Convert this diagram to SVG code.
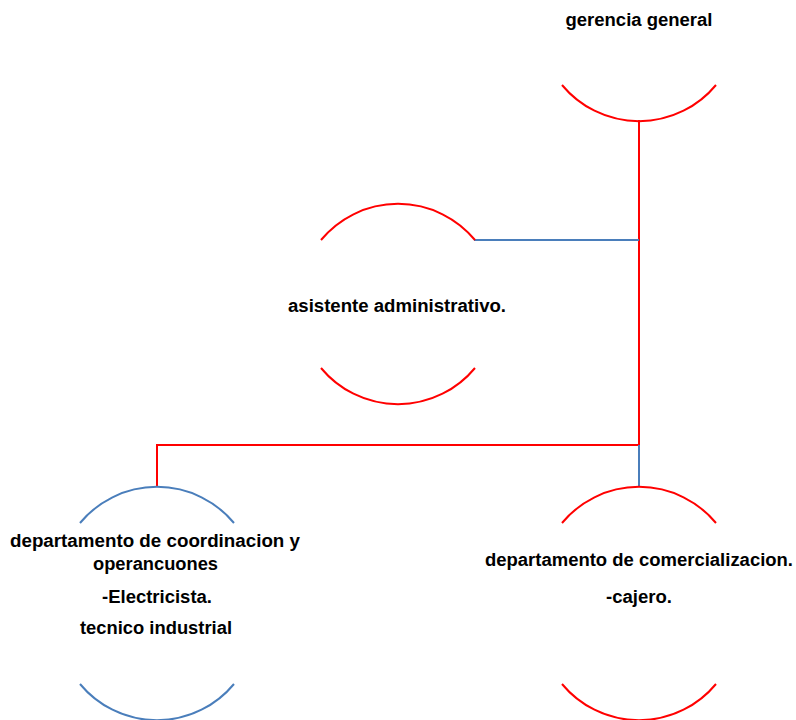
<svg xmlns="http://www.w3.org/2000/svg" width="796" height="720" viewBox="0 0 796 720">
<style>
  .red { fill: none; stroke: #FF0000; stroke-width: 2; }
  .blue { fill: none; stroke: #4A7EBB; stroke-width: 2; }
  .lbl { font-family: "Liberation Sans", Arial, sans-serif; font-weight: bold; font-size: 18px; fill: #000; text-anchor: middle; }
</style>
<rect width="796" height="720" fill="#FFFFFF"/>
<g id="connectors">
  <line class="red" x1="639" y1="120" x2="639" y2="445"/>
  <line class="blue" x1="474" y1="240" x2="639" y2="240"/>
  <polyline class="red" points="639,445 157,445 157,487"/>
  <line class="blue" x1="639" y1="445" x2="639" y2="487"/>
</g>
<g id="gerencia-general">
  <path class="red" d="M 562 85 A 100 100 0 0 0 716 85"/>
  <text class="lbl" x="639" y="26" textLength="147" lengthAdjust="spacingAndGlyphs">gerencia general</text>
</g>
<g id="asistente-administrativo">
  <path class="red" d="M 321 240 A 100 100 0 0 1 475 240"/>
  <path class="red" d="M 321 368 A 100 100 0 0 0 475 368"/>
  <text class="lbl" x="397" y="312" textLength="218" lengthAdjust="spacingAndGlyphs">asistente administrativo.</text>
</g>
<g id="departamento-coordinacion">
  <path class="blue" d="M 80 523 A 100 100 0 0 1 234 523"/>
  <path class="blue" d="M 80 684 A 100 100 0 0 0 234 684"/>
  <text class="lbl" x="155" y="547" textLength="290" lengthAdjust="spacingAndGlyphs">departamento de coordinacion y</text>
  <text class="lbl" x="155.5" y="570" textLength="125" lengthAdjust="spacingAndGlyphs">operancuones</text>
  <text class="lbl" x="157" y="603" textLength="110" lengthAdjust="spacingAndGlyphs">-Electricista.</text>
  <text class="lbl" x="156" y="634" textLength="152" lengthAdjust="spacingAndGlyphs">tecnico industrial</text>
</g>
<g id="departamento-comercializacion">
  <path class="red" d="M 562 523 A 100 100 0 0 1 716 523"/>
  <path class="red" d="M 562 684 A 100 100 0 0 0 716 684"/>
  <text class="lbl" x="639" y="566" textLength="308" lengthAdjust="spacingAndGlyphs">departamento de comercializacion.</text>
  <text class="lbl" x="639" y="603" textLength="66" lengthAdjust="spacingAndGlyphs">-cajero.</text>
</g>
</svg>
